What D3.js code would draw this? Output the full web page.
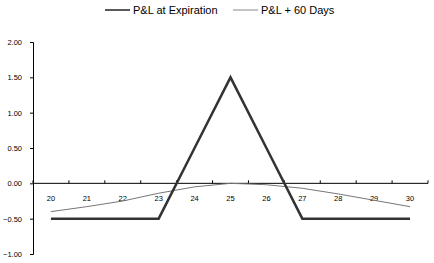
<!DOCTYPE html>
<html>
<head>
<meta charset="utf-8">
<script src="https://cdn.jsdelivr.net/npm/d3@7"></script>
<style>
  body { margin: 0; background: #fff; }
  text { font-family: "Liberation Sans", Arial, sans-serif; fill: #000; }
</style>
</head>
<body>
<div id="chart"></div>
<script>
// strike prices on the category axis
const strikes = ["20", "21", "22", "23", "24", "25", "26", "27", "28", "29", "30"];
// P&L at expiration (butterfly payoff)
const pnlExpiry = [-0.5, -0.5, -0.5, -0.5, 0.5, 1.5, 0.5, -0.5, -0.5, -0.5, -0.5];
// P&L with 60 days left
const pnl60 = [-0.40, -0.33, -0.25, -0.14, -0.05, 0.0, -0.02, -0.07, -0.15, -0.24, -0.33];
const yTicks = [-1.0, -0.5, 0.0, 0.5, 1.0, 1.5, 2.0];
const seriesNames = ["P&L at Expiration", "P&L + 60 Days"];

const width = 434, height = 263;
const margin = { top: 42, right: 6, bottom: 9, left: 33 };

const svg = d3.select("#chart")
    .append("svg")
    .attr("width", width)
    .attr("height", height);

// category axis, ticks between categories like excel does
const x = d3.scaleBand()
    .domain(strikes)
    .range([margin.left, width - margin.right]);

const y = d3.scaleLinear()
    .domain([-1, 2])
    .range([height - margin.bottom, margin.top]);

const cx = d => x(d) + x.bandwidth() / 2;

// y axis
const yAxis = svg.append("g")
    .attr("transform", "translate(" + margin.left + ",0)")
    .call(d3.axisLeft(y).tickValues(yTicks).tickFormat(d3.format(".2f")).tickSize(3).tickPadding(8));
yAxis.select(".domain").attr("stroke", "#000");
yAxis.selectAll("text").style("font-size", "7.5px");

// x axis line at zero
const xg = svg.append("g");
xg.append("line")
    .attr("x1", margin.left).attr("x2", width - margin.right)
    .attr("y1", y(0)).attr("y2", y(0))
    .attr("stroke", "#000");
// tick marks between the categories, pointing up
const edges = strikes.map(d => x(d)).concat([x(strikes[strikes.length - 1]) + x.bandwidth()]);
xg.selectAll("line.tick")
    .data(edges)
    .join("line")
    .attr("class", "tick")
    .attr("x1", d => d).attr("x2", d => d)
    .attr("y1", y(0)).attr("y2", y(0) - 3)
    .attr("stroke", "#000");
xg.selectAll("text")
    .data(strikes)
    .join("text")
    .attr("x", d => cx(d))
    .attr("y", y(0) + 18)
    .attr("text-anchor", "middle")
    .style("font-size", "7.5px")
    .text(d => d);

const line = d3.line()
    .x((d, i) => cx(strikes[i]))
    .y(d => y(d));

svg.append("path")
    .datum(pnl60)
    .attr("fill", "none")
    .attr("stroke", "#777")
    .attr("stroke-width", 1)
    .attr("d", line);

svg.append("path")
    .datum(pnlExpiry)
    .attr("fill", "none")
    .attr("stroke", "#333")
    .attr("stroke-width", 2.5)
    .attr("d", line);

// legend
const legend = svg.append("g");
const legendX = [105, 233];
const legendStroke = [{ c: "#222", w: 1.5 }, { c: "#888", w: 1 }];
seriesNames.forEach(function (name, i) {
    legend.append("line")
        .attr("x1", legendX[i]).attr("x2", legendX[i] + 25)
        .attr("y1", 10).attr("y2", 10)
        .attr("stroke", legendStroke[i].c)
        .attr("stroke-width", legendStroke[i].w);
    legend.append("text")
        .attr("x", legendX[i] + 28)
        .attr("y", 14)
        .style("font-size", "11px")
        .text(name);
});
</script>
</body>
</html>
